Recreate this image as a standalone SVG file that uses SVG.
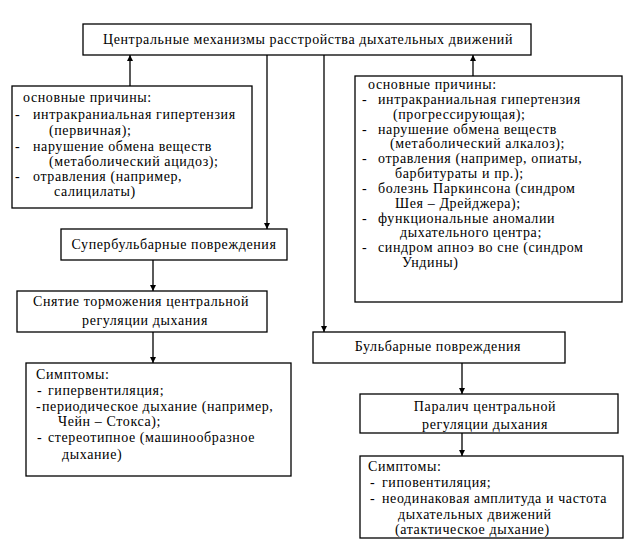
<svg xmlns="http://www.w3.org/2000/svg" width="634" height="552" viewBox="0 0 634 552">
<defs>
<style>
.box{fill:#fff;stroke:#000;stroke-width:1.3}
.t{font-family:"Liberation Serif","Times New Roman","DejaVu Serif",serif;font-size:14px;letter-spacing:0.6px;fill:#000}
.c{text-anchor:middle}
.ln{fill:none;stroke:#000;stroke-width:1.3;marker-end:url(#ah)}
</style>
<marker id="ah" markerUnits="userSpaceOnUse" markerWidth="7" markerHeight="7" refX="6" refY="3" orient="auto">
<path d="M0,0 L6,3 L0,6 z" fill="#000"/>
</marker>
</defs>
<rect width="634" height="552" fill="#fff"/>
<g id="connectors">
<line class="ln" x1="130" y1="86" x2="130" y2="55"/>
<line class="ln" x1="473" y1="76" x2="473" y2="55"/>
<line class="ln" x1="267" y1="55" x2="267" y2="229"/>
<line class="ln" x1="324" y1="55" x2="324" y2="332"/>
<line class="ln" x1="153" y1="260" x2="153" y2="291"/>
<line class="ln" x1="153" y1="332" x2="153" y2="363"/>
<line class="ln" x1="462" y1="363" x2="462" y2="394"/>
<line class="ln" x1="462" y1="433" x2="462" y2="456"/>
</g>
<g id="top">
<rect class="box" x="83" y="24" width="448" height="31"/>
<text class="t c" x="308" y="44">Центральные механизмы расстройства дыхательных движений</text>
</g>
<g id="causes-left">
<rect class="box" x="12" y="86" width="240" height="122"/>
<text class="t" x="23" y="102">основные причины:</text>
<text class="t" x="15" y="119">-</text><text class="t" x="33" y="119">интракраниальная гипертензия</text>
<text class="t" x="49" y="135">(первичная);</text>
<text class="t" x="15" y="151">-</text><text class="t" x="33" y="151">нарушение обмена веществ</text>
<text class="t" x="49" y="166">(метаболический ацидоз);</text>
<text class="t" x="15" y="181">-</text><text class="t" x="33" y="181">отравления (например,</text>
<text class="t" x="54" y="196">салицилаты)</text>
</g>
<g id="causes-right">
<rect class="box" x="355" y="76" width="267" height="226"/>
<text class="t" x="368" y="89">основные причины:</text>
<text class="t" x="362" y="104">-</text><text class="t" x="378" y="104">интракраниальная гипертензия</text>
<text class="t" x="393" y="119">(прогрессирующая);</text>
<text class="t" x="362" y="134">-</text><text class="t" x="378" y="134">нарушение обмена веществ</text>
<text class="t" x="390" y="148">(метаболический алкалоз);</text>
<text class="t" x="362" y="163">-</text><text class="t" x="378" y="163">отравления (например, опиаты,</text>
<text class="t" x="395" y="178">барбитураты и пр.);</text>
<text class="t" x="362" y="193">-</text><text class="t" x="378" y="193">болезнь Паркинсона (синдром</text>
<text class="t" x="395" y="208">Шея – Дрейджера);</text>
<text class="t" x="362" y="223">-</text><text class="t" x="378" y="223">функциональные аномалии</text>
<text class="t" x="400" y="237">дыхательного центра;</text>
<text class="t" x="362" y="252">-</text><text class="t" x="378" y="252">синдром апноэ во сне (синдром</text>
<text class="t" x="402" y="267">Ундины)</text>
</g>
<g id="suprabulbar">
<rect class="box" x="61" y="229" width="226" height="31"/>
<text class="t c" x="174" y="249">Супербульбарные повреждения</text>
</g>
<g id="disinhibition">
<rect class="box" x="17" y="291" width="250" height="41"/>
<text class="t c" x="141" y="306">Снятие торможения центральной</text>
<text class="t c" x="145" y="325">регуляции дыхания</text>
</g>
<g id="symptoms-left">
<rect class="box" x="26" y="363" width="265" height="113"/>
<text class="t" x="36" y="379">Симптомы:</text>
<text class="t" x="37" y="395">-</text><text class="t" x="48" y="395">гипервентиляция;</text>
<text class="t" x="36" y="411">-</text><text class="t" x="42" y="411">периодическое дыхание (например,</text>
<text class="t" x="58" y="426">Чейн – Стокса);</text>
<text class="t" x="37" y="442">-</text><text class="t" x="48" y="442">стереотипное (машинообразное</text>
<text class="t" x="62" y="459">дыхание)</text>
</g>
<g id="bulbar">
<rect class="box" x="313" y="332" width="252" height="31"/>
<text class="t c" x="438" y="351">Бульбарные повреждения</text>
</g>
<g id="paralysis">
<rect class="box" x="360" y="394" width="258" height="39"/>
<text class="t c" x="485" y="411">Паралич центральной</text>
<text class="t c" x="485" y="429">регуляции дыхания</text>
</g>
<g id="symptoms-right">
<rect class="box" x="360" y="456" width="263" height="82"/>
<text class="t" x="368" y="471">Симптомы:</text>
<text class="t" x="370" y="487">-</text><text class="t" x="382" y="487">гиповентиляция;</text>
<text class="t" x="370" y="503">-</text><text class="t" x="382" y="503">неодинаковая амплитуда и частота</text>
<text class="t" x="398" y="519">дыхательных движений</text>
<text class="t" x="395" y="534">(атактическое дыхание)</text>
</g>
</svg>
